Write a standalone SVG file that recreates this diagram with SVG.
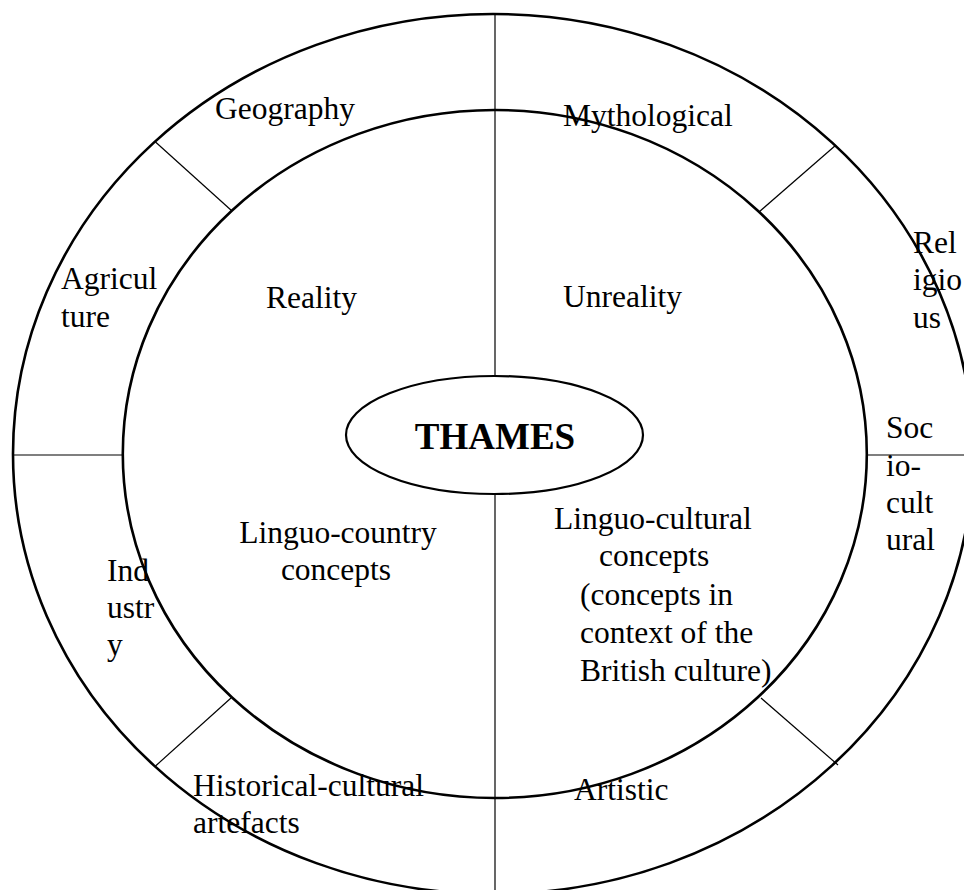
<svg xmlns="http://www.w3.org/2000/svg" width="964" height="890" viewBox="0 0 964 890">
<style>
  .ring { fill: none; stroke: #000; stroke-width: 2.6; }
  .core { fill: none; stroke: #000; stroke-width: 2.2; }
  .div { stroke: #000; stroke-width: 1.2; fill: none; }
  text { font-family: "Liberation Serif", "Times New Roman", serif; font-size: 31.5px; fill: #000; }
  .title { font-size: 37px; font-weight: bold; text-anchor: middle; }
  .mid { text-anchor: middle; }
</style>
<rect x="0" y="0" width="964" height="890" fill="#fff"/>
<g id="connectors">
  <line class="div" x1="495" y1="14" x2="495" y2="376"/>
  <line class="div" x1="495" y1="494" x2="495" y2="890"/>
  <line class="div" x1="13" y1="455" x2="122.5" y2="455"/>
  <line class="div" x1="867" y1="455" x2="964" y2="455"/>
  <line class="div" x1="155.5" y1="142" x2="232" y2="211"/>
  <line class="div" x1="836" y1="145" x2="759" y2="212"/>
  <line class="div" x1="155.5" y1="766" x2="231" y2="698"/>
  <line class="div" x1="838" y1="765" x2="761" y2="698"/>
</g>
<g id="outer-ring">
  <ellipse class="ring" cx="493" cy="454" rx="480" ry="440"/>
</g>
<g id="inner-ring">
  <ellipse class="ring" cx="494.8" cy="454" rx="372" ry="344"/>
</g>
<g id="thames">
  <ellipse class="core" cx="494.5" cy="435" rx="148.5" ry="59"/>
  <text class="title" x="495" y="449">THAMES</text>
</g>
<g id="geography"><text x="215" y="119">Geography</text></g>
<g id="mythological"><text x="563" y="126">Mythological</text></g>
<g id="reality"><text x="266" y="308">Reality</text></g>
<g id="unreality"><text x="563" y="307">Unreality</text></g>
<g id="agriculture">
  <text x="61" y="289">Agricul</text>
  <text x="61" y="327">ture</text>
</g>
<g id="religious">
  <text x="913" y="253">Rel</text>
  <text x="913" y="290">igio</text>
  <text x="913" y="328">us</text>
</g>
<g id="socio-cultural">
  <text x="886" y="438">Soc</text>
  <text x="886" y="476">io-</text>
  <text x="886" y="513">cult</text>
  <text x="886" y="550">ural</text>
</g>
<g id="industry">
  <text x="107" y="581">Ind</text>
  <text x="107" y="618">ustr</text>
  <text x="107" y="655">y</text>
</g>
<g id="linguo-country">
  <text class="mid" x="338" y="543">Linguo-country</text>
  <text class="mid" x="336" y="580">concepts</text>
</g>
<g id="linguo-cultural">
  <text x="554" y="529">Linguo-cultural</text>
  <text x="599" y="566">concepts</text>
  <text x="580" y="605">(concepts in</text>
  <text x="580" y="643">context of the</text>
  <text x="580" y="681">British culture)</text>
</g>
<g id="historical-cultural">
  <text x="193" y="796">Historical-cultural</text>
  <text x="193" y="833">artefacts</text>
</g>
<g id="artistic"><text x="574" y="800">Artistic</text></g>
</svg>
